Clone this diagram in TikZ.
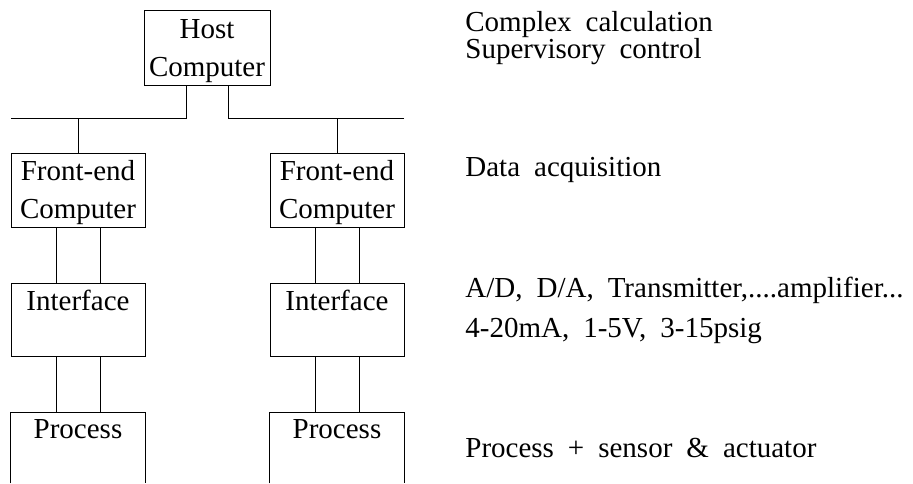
\documentclass[tikz,border=0pt]{standalone}
\usepackage{fontspec}
\setmainfont{Liberation Serif}
\newcommand{\widespace}{\spaceskip=14pt\relax}

\begin{document}
\begin{tikzpicture}[x=1pt,y=-1pt,line width=0.8pt]
\useasboundingbox (0,0) rectangle (913,483);
\tikzstyle{box}=[rectangle,draw,inner sep=0pt,minimum width=134pt]
\tikzstyle{tag}=[inner sep=0pt,anchor=north,yshift=-7pt,align=center,font=\fontsize{29}{38}\selectfont]
\tikzstyle{note}=[anchor=west,inner sep=0pt,align=left,font=\fontsize{29}{26}\selectfont\widespace]

% host and bus
\node[box,minimum width=126pt,minimum height=75pt,label={[tag,yshift=-3pt]north:Host\\Computer}] (host) at (207,47.5) {};
\coordinate (lbus) at (11,118);
\coordinate (rbus) at (404,118);
\draw (lbus) -| ([xshift=-21pt]host.south);
\draw (rbus) -| ([xshift=21pt]host.south);

% the two stations
\node[box,minimum height=74pt,label={[tag]north:Front-end\\Computer}] (lfe) at (78,190) {};
\node[box,minimum height=74pt,label={[tag]north:Front-end\\Computer}] (rfe) at (337,190) {};
\node[box,minimum height=73pt,label={[tag]north:Interface}] (lif) at (78,319.5) {};
\node[box,minimum height=73pt,label={[tag]north:Interface}] (rif) at (337,319.5) {};
\node[box,draw=none,minimum height=70pt,label={[tag]north:Process}] (lpr) at (78,448) {};
\node[box,draw=none,minimum height=70pt,label={[tag]north:Process}] (rpr) at (337,448) {};
\draw (lpr.south west) -- (lpr.north west) -- (lpr.north east) -- (lpr.south east);
\draw (rpr.south west) -- (rpr.north west) -- (rpr.north east) -- (rpr.south east);

\draw (lfe.north) -- (lfe.north |- lbus);
\draw (rfe.north) -- (rfe.north |- rbus);
\draw ([xshift=-22pt]lfe.south) -- ([xshift=-22pt]lif.north);
\draw ([xshift=22pt]lfe.south) -- ([xshift=22pt]lif.north);
\draw ([xshift=-22pt]rfe.south) -- ([xshift=-22pt]rif.north);
\draw ([xshift=22pt]rfe.south) -- ([xshift=22pt]rif.north);
\draw ([xshift=-22pt]lif.south) -- ([xshift=-22pt]lpr.north);
\draw ([xshift=22pt]lif.south) -- ([xshift=22pt]lpr.north);
\draw ([xshift=-22pt]rif.south) -- ([xshift=-22pt]rpr.north);
\draw ([xshift=22pt]rif.south) -- ([xshift=22pt]rpr.north);

% level notes
\node[note] (n1) at (465,38) {Complex calculation\\Supervisory control};
\node[note] (n2) at (465,170) {Data acquisition};
\node[note] (n3) at (465,290) {A/D, D/A, Transmitter,....amplifier...};
\node[note] (n4) at (465,331) {4-20mA, 1-5V, 3-15psig};
\node[note] (n5) at (465,448) {Process + sensor \& actuator};
\end{tikzpicture}
\end{document}
